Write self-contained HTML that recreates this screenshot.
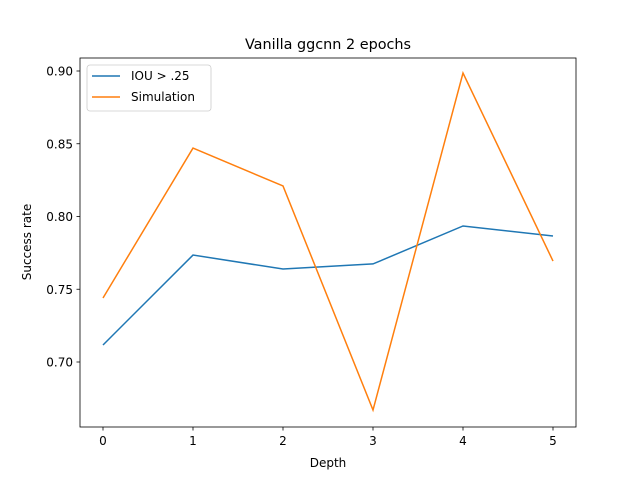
<!DOCTYPE html>
<html><head><meta charset="utf-8"><style>
body{margin:0;background:#fff;font-family:"DejaVu Sans","Liberation Sans",sans-serif;}
svg text{font-family:"DejaVu Sans","Liberation Sans",sans-serif;}
</style></head><body>
<svg id="chart" width="640" height="480" xmlns="http://www.w3.org/2000/svg">
<rect width="640" height="480" fill="#fff"/>
<text x="328" y="49" font-size="14.4" text-anchor="middle">Vanilla ggcnn 2 epochs</text>
<g id="axes"></g>
<g id="lines"></g>
<rect x="80" y="58" width="496" height="369" fill="none" stroke="#000" stroke-width="0.8"/>
<text x="328" y="467" font-size="12" text-anchor="middle">Depth</text>
<text x="0" y="0" font-size="12" text-anchor="middle" transform="translate(31,242) rotate(-90)">Success rate</text>
<g>
<rect x="87" y="65" width="124" height="46" rx="3" fill="#fff" fill-opacity="0.8" stroke="#ccc" stroke-width="0.8"/>
<line x1="92" y1="76" x2="120" y2="76" stroke="#1f77b4" stroke-width="1.5"/>
<text x="131" y="80" font-size="12">IOU &gt; .25</text>
<line x1="92" y1="97" x2="120" y2="97" stroke="#ff7f0e" stroke-width="1.5"/>
<text x="131" y="101" font-size="12">Simulation</text>
</g>
</svg>
<script>
const depths=[0,1,2,3,4,5];
const iouValues=[0.7117,0.7735,0.7639,0.7674,0.7935,0.7866];
const simValues=[0.744,0.847,0.821,0.667,0.8986,0.7694];
const yTicks=[0.70,0.75,0.80,0.85,0.90];
const yTickLabels=["0.70","0.75","0.80","0.85","0.90"];
const xTickLabels=["0","1","2","3","4","5"];
const NS="http://www.w3.org/2000/svg";
function xs(v){return 103+v*90;}
function ys(v){return 362-(v-0.70)*1455;}
const axes=document.getElementById('axes');
function mk(t,a,p){const e=document.createElementNS(NS,t);for(const k in a)e.setAttribute(k,a[k]);p.appendChild(e);return e;}
depths.forEach((d,i)=>{
  const l=mk('line',{x1:xs(d),x2:xs(d),y1:427,y2:430.5,stroke:'#000','stroke-width':0.8},axes);
  
  
  const t=mk('text',{x:xs(d),y:445,'font-size':12,'text-anchor':'middle'},axes);
  t.textContent=xTickLabels[i];
  
  
});
yTicks.forEach((v,i)=>{
  const l=mk('line',{x1:76.5,x2:80,y1:ys(v),y2:ys(v),stroke:'#000','stroke-width':0.8},axes);
  
  
  const t=mk('text',{x:73,y:ys(v)+4.5,'font-size':12,'text-anchor':'end'},axes);
  t.textContent=yTickLabels[i];
  
  
});
const lines=document.getElementById('lines');
function series(vals,color,name){
  const p=mk('polyline',{points:vals.map((v,i)=>xs(depths[i])+','+ys(v)).join(' '),fill:'none',stroke:color,'stroke-width':1.5},lines);
  
  
}
series(iouValues,'#1f77b4','iou-line');
series(simValues,'#ff7f0e','simulation-line');
</script>
</body></html>
